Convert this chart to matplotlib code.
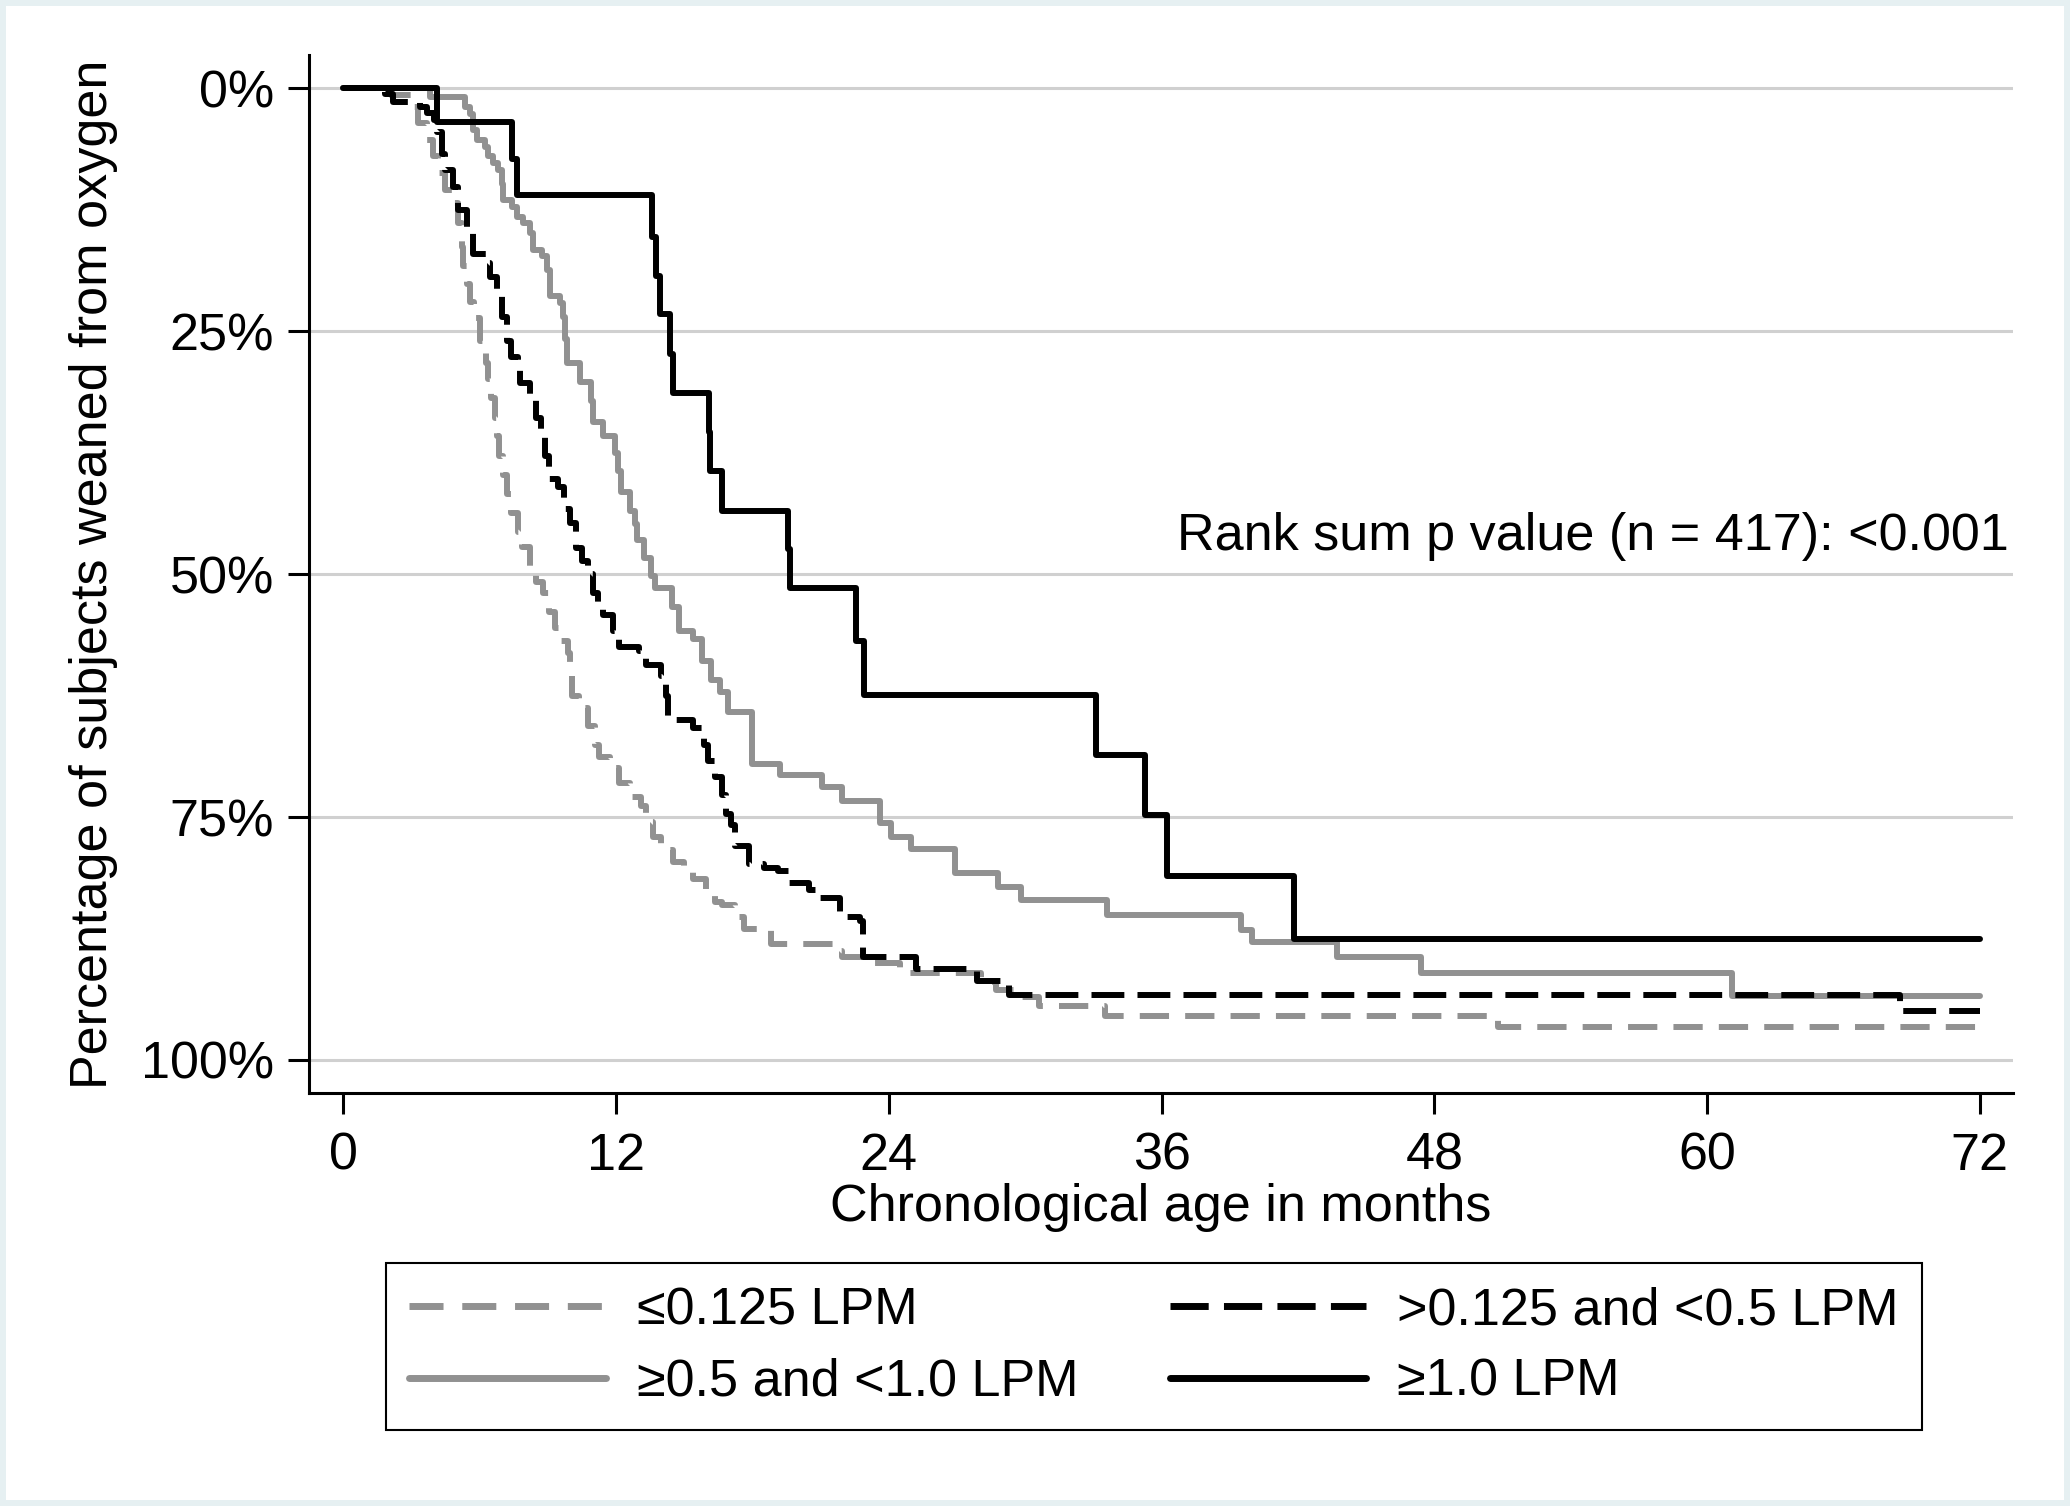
import matplotlib
matplotlib.use('Agg')
import matplotlib.pyplot as plt
from matplotlib.patches import Rectangle

plt.rcParams['font.family'] = ['Liberation Sans', 'DejaVu Sans']

# months / cumulative % weaned
t_low = [0, 2.1, 3.0, 3.3, 3.67, 3.97, 4.18, 4.48, 4.85, 5.06, 5.21, 5.28, 5.43, 5.58,
         5.76, 6.01, 6.27, 6.35, 6.52, 6.69, 6.77, 6.86, 7.02, 7.19, 7.36, 7.70, 7.87,
         8.20, 8.46, 8.79, 9.04, 9.30, 9.49, 9.88, 9.98, 10.08, 10.37, 10.77, 11.06,
         11.26, 11.75, 12.14, 12.63, 13.12, 13.32, 13.61, 14.0, 14.5, 14.99, 15.38,
         15.97, 16.36, 16.66, 17.25, 17.64, 18.82, 21.67, 21.96, 22.85, 24.51, 28.05,
         28.7, 29.5, 30.6, 33.5, 50.8]
p_low = [0, 0.7, 1.9, 3.6, 5.3, 7.0, 8.7, 10.5, 11.8, 13.9, 16.3, 18.3, 20.1, 22.0,
         23.6, 26.0, 28.3, 29.9, 31.9, 33.9, 35.8, 37.8, 39.8, 41.7, 43.7, 45.7, 47.2,
         49.2, 50.8, 51.9, 53.9, 55.5, 56.9, 58.1, 60.5, 62.5, 63.8, 65.6, 67.6,
         68.8, 69.9, 71.5, 72.9, 73.9, 75.5, 77.0, 78.4, 79.6, 80.6, 81.4,
         82.5, 83.7, 84.1, 85.3, 86.5, 88.1, 88.8, 89.4, 90.0, 91.0, 92.0,
         92.8, 93.5, 94.4, 95.5, 96.6]

t_mid = [0, 1.85, 2.2, 3.4, 3.7, 4.0, 4.11, 4.33, 4.48, 4.85, 5.06, 5.43, 5.72, 6.31,
         6.46, 6.75, 6.97, 7.19, 7.36, 7.70, 7.78, 8.20, 8.46, 8.71, 8.88, 9.04, 9.47,
         9.72, 9.97, 10.22, 10.5, 10.75, 10.98, 11.2, 11.45, 11.85, 12.14, 13.03, 13.32,
         14.0, 14.2, 14.3, 15.38, 15.87, 16.07, 16.36, 16.66, 16.85, 17.05, 17.25,
         17.84, 18.52, 19.11, 19.6, 20.49, 20.88, 21.86, 22.75, 22.85, 25.2, 27.9,
         29.3, 68.5]
p_mid = [0, 0.6, 1.4, 1.9, 2.5, 3.2, 4.45, 6.7, 8.4, 10.1, 12.5, 14.9, 17.0, 18.0,
         19.4, 21.4, 23.5, 26.0, 27.6, 28.3, 30.3, 31.7, 33.9, 35.4, 37.8, 40.2, 41.0,
         43.3, 44.7, 47.3, 48.6, 50.0, 51.9, 53.0, 54.2, 55.8, 57.5, 57.9, 59.3,
         60.5, 62.5, 65.0, 65.8, 67.6, 69.2, 70.9, 72.7, 74.7, 75.8, 78.0,
         79.8, 80.2, 80.6, 81.8, 82.5, 83.3, 85.3, 85.7, 89.4, 90.6, 91.9,
         93.3, 95.0]

t_high = [0, 3.8, 5.36, 5.58, 5.72, 5.87, 6.24, 6.38, 6.6, 6.82, 6.97, 7.04, 7.41,
          7.63, 7.93, 8.22, 8.36, 8.73, 8.95, 9.1, 9.54, 9.68, 9.75, 9.83, 10.42, 10.9,
          11.0, 11.44, 11.96, 12.08, 12.24, 12.6, 12.85, 12.93, 13.22, 13.55, 13.71,
          14.45, 14.79, 15.38, 15.77, 16.17, 16.56, 16.95, 18.0, 19.21, 21.08, 21.96,
          23.63, 24.12, 25.0, 26.9, 28.8, 29.8, 33.6, 39.5, 40.0, 43.7, 47.4, 61.1]
p_high = [0, 0.85, 1.9, 2.6, 4.3, 5.3, 6.0, 7.0, 7.7, 8.4, 9.8, 11.5, 12.2,
          13.2, 13.9, 14.9, 16.6, 17.3, 18.7, 21.4, 22.1, 23.5, 25.8, 28.3, 30.2, 32.2,
          34.3, 35.8, 37.5, 39.4, 41.5, 43.5, 44.8, 46.5, 48.3, 50.2, 51.4,
          53.4, 55.8, 56.7, 58.9, 60.9, 62.1, 64.2, 69.5, 70.7, 71.9, 73.3,
          75.6, 77.0, 78.3, 80.8, 82.2, 83.5, 85.1, 86.6, 87.9, 89.4, 91.1, 93.4]

t_top = [0, 4.13, 7.44, 7.66, 13.59, 13.75, 13.94, 14.38, 14.52, 16.08, 16.15, 16.65,
         19.55, 19.65, 22.55, 22.9, 33.13, 35.29, 36.26, 41.84]
p_top = [0, 3.5, 7.3, 11.0, 15.3, 19.3, 23.2, 27.3, 31.4, 35.4, 39.4, 43.5,
         47.4, 51.4, 56.9, 62.4, 68.6, 74.8, 81.1, 87.5]

end_month = 72
labels = ['\u22640.125 LPM', '\u22650.5 and <1.0 LPM', '>0.125 and <0.5 LPM', '\u22651.0 LPM']
xticks = [0, 12, 24, 36, 48, 60, 72]
yticks = [0, 25, 50, 75, 100]

gray = '#919191'
fs = 37.5
lw = 4.3

fig = plt.figure(figsize=(20.7, 15.06), dpi=100)
ax = fig.add_axes([309 / 2070, 1 - 1093 / 1506, (2013 - 309) / 2070, (1093 - 55) / 1506])

def km(t, p, **kw):
    return ax.step(t + [end_month], p + [p[-1]], where='post', lw=lw, **kw)[0]

l1 = km(t_low, p_low, color=gray, dashes=(4.9, 2.7), label=labels[0])
l2 = km(t_high, p_high, color=gray, solid_capstyle='round', label=labels[1])
l3 = km(t_mid, p_mid, color='black', dashes=(5.5, 2.2), label=labels[2])
l4 = km(t_top, p_top, color='black', solid_capstyle='round', label=labels[3])

ax.set_xlim(-1.505, 73.46)
ax.set_ylim(103.4, -3.44)
ax.set_xticks(xticks)
ax.set_yticks(yticks)
ax.set_yticklabels([f'{v}%' for v in yticks])
ax.grid(axis='y', color='#d0d0d0', lw=2.2)
ax.set_axisbelow(True)
for s in ('top', 'right'):
    ax.spines[s].set_visible(False)
for s in ('left', 'bottom'):
    ax.spines[s].set_linewidth(2.2)
ax.tick_params(axis='both', length=15, width=2.2, labelsize=fs)
ax.tick_params(axis='x', pad=13)
ax.tick_params(axis='y', pad=10)

ax.text(73.29, 47.5, 'Rank sum p value (n = 417): <0.001', fontsize=fs,
        ha='right', va='baseline')

fig.text(0.5609, 1 - 1221 / 1506, 'Chronological age in months', fontsize=fs,
         ha='center', va='baseline')
fig.text(107 / 2070, 1 - 574 / 1506, 'Percentage of subjects weaned from oxygen',
         fontsize=fs, rotation=90, rotation_mode='anchor', ha='center', va='baseline')

leg = fig.legend(handles=[l1, l2, l3, l4], ncol=2, fontsize=fs,
                 loc='upper left', bbox_to_anchor=(386 / 2070, 1 - 1263 / 1506),
                 borderaxespad=0, handlelength=3.77, handletextpad=0.6,
                 columnspacing=1.75, borderpad=0.45, labelspacing=0.43,
                 fancybox=False, edgecolor='black', framealpha=1)
leg.get_frame().set_linewidth(1.5)
for h in leg.legend_handles:
    h.set_linewidth(5)

fig.patches.append(Rectangle((0, 0), 1, 1, transform=fig.transFigure, fill=False,
                             edgecolor='#e6f0f2', lw=8.6))

fig.savefig('out.png', dpi=100)
